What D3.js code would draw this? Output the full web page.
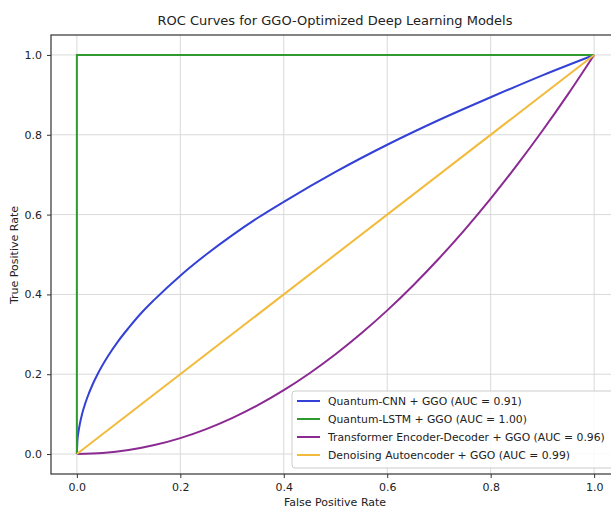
<!DOCTYPE html>
<html>
<head>
    <script src="https://cdn.jsdelivr.net/npm/d3@7"></script>
    <style>
        body { margin: 0; background: #fff; }
        svg { display: block; font-family: "DejaVu Sans", sans-serif; }
        .grid line { stroke: #d9d9d9; stroke-width: 1; }
        .curve { fill: none; stroke-width: 2; }
    </style>
</head>
<body>
<div id="container"></div>
<script>
    // data
    var fprCnn = [0, 0.001, 0.003, 0.006, 0.01, 0.015, 0.02, 0.03, 0.04, 0.06, 0.08, 0.1, 0.125, 0.15, 0.2, 0.25, 0.3, 0.35, 0.4, 0.5, 0.6, 0.7, 0.8, 0.9, 1];
    var tprCnn = [0, 0.032, 0.055, 0.077, 0.1, 0.122, 0.141, 0.173, 0.2, 0.245, 0.283, 0.316, 0.354, 0.387, 0.447, 0.5, 0.548, 0.592, 0.632, 0.707, 0.775, 0.837, 0.894, 0.949, 1];
    var fprLstm = [0, 0, 1];
    var tprLstm = [0, 1, 1];
    var fprTrans = [0, 0.05, 0.1, 0.15, 0.2, 0.25, 0.3, 0.35, 0.4, 0.45, 0.5, 0.55, 0.6, 0.65, 0.7, 0.75, 0.8, 0.85, 0.9, 0.95, 1];
    var tprTrans = [0, 0.0025, 0.01, 0.0225, 0.04, 0.0625, 0.09, 0.1225, 0.16, 0.2025, 0.25, 0.3025, 0.36, 0.4225, 0.49, 0.5625, 0.64, 0.7225, 0.81, 0.9025, 1];
    var fprDae = [0, 1];
    var tprDae = [0, 1];
    var labels = [
        "Quantum-CNN + GGO (AUC = 0.91)",
        "Quantum-LSTM + GGO (AUC = 1.00)",
        "Transformer Encoder-Decoder + GGO (AUC = 0.96)",
        "Denoising Autoencoder + GGO (AUC = 0.99)"
    ];
    var colors = ["#3341d6", "#2f9a2f", "#8b2a92", "#f2bb3c"];
    var ticks = [0, 0.2, 0.4, 0.6, 0.8, 1.0];

    var series = [
        { x: fprCnn, y: tprCnn, smooth: true },
        { x: fprLstm, y: tprLstm, smooth: false },
        { x: fprTrans, y: tprTrans, smooth: true },
        { x: fprDae, y: tprDae, smooth: false }
    ];

    var W = 611, H = 508;
    // axes box
    var box = { left: 51, right: 620, top: 35, bottom: 474 };

    var x = d3.scaleLinear().domain([-0.05, 1.05]).range([box.left, box.right]);
    var y = d3.scaleLinear().domain([-0.05, 1.05]).range([box.bottom, box.top]);

    var svg = d3.select("#container").append("svg")
        .attr("width", W)
        .attr("height", H);

    // grid
    var grid = svg.append("g").attr("class", "grid");
    grid.selectAll("line.v").data(ticks).enter().append("line")
        .attr("class", "v")
        .attr("x1", function(d) { return x(d); })
        .attr("x2", function(d) { return x(d); })
        .attr("y1", box.top).attr("y2", box.bottom);
    grid.selectAll("line.h").data(ticks).enter().append("line")
        .attr("class", "h")
        .attr("y1", function(d) { return y(d); })
        .attr("y2", function(d) { return y(d); })
        .attr("x1", box.left).attr("x2", box.right);

    // curves
    var smoothLine = d3.line()
        .x(function(d) { return x(d[0]); })
        .y(function(d) { return y(d[1]); })
        .curve(d3.curveMonotoneX);
    var straightLine = d3.line()
        .x(function(d) { return x(d[0]); })
        .y(function(d) { return y(d[1]); });

    svg.selectAll("path.curve").data(series).enter().append("path")
        .attr("class", "curve")
        .attr("stroke", function(d, i) { return colors[i]; })
        .attr("d", function(d) {
            return (d.smooth ? smoothLine : straightLine)(d3.zip(d.x, d.y));
        });

    // frame
    svg.append("rect")
        .attr("x", box.left).attr("y", box.top)
        .attr("width", box.right - box.left).attr("height", box.bottom - box.top)
        .attr("fill", "none").attr("stroke", "#333").attr("stroke-width", 1.2);

    // axes
    var xAxis = svg.append("g")
        .attr("transform", "translate(0," + box.bottom + ")")
        .call(d3.axisBottom(x).tickValues(ticks).tickFormat(d3.format(".1f")).tickSize(4).tickPadding(5));
    var yAxis = svg.append("g")
        .attr("transform", "translate(" + box.left + ",0)")
        .call(d3.axisLeft(y).tickValues(ticks).tickFormat(d3.format(".1f")).tickSize(4).tickPadding(5));
    [xAxis, yAxis].forEach(function(a) {
        a.select(".domain").remove();
        a.selectAll("line").attr("stroke", "#333");
        a.selectAll("text").attr("font-size", 11).attr("fill", "#222")
            .attr("font-family", "DejaVu Sans, sans-serif");
    });

    // title and labels
    svg.append("text")
        .attr("x", 335).attr("y", 25)
        .attr("text-anchor", "middle")
        .attr("font-size", 13)
        .attr("fill", "#222")
        .text("ROC Curves for GGO-Optimized Deep Learning Models");

    svg.append("text")
        .attr("x", 335).attr("y", 506)
        .attr("text-anchor", "middle")
        .attr("font-size", 11)
        .attr("fill", "#222")
        .text("False Positive Rate");

    svg.append("text")
        .attr("transform", "translate(18,255) rotate(-90)")
        .attr("text-anchor", "middle")
        .attr("font-size", 11)
        .attr("fill", "#222")
        .text("True Positive Rate");

    // legend
    var lg = svg.append("g").attr("transform", "translate(292,391)");
    lg.append("rect")
        .attr("width", 330).attr("height", 77)
        .attr("rx", 3)
        .attr("fill", "#fff").attr("fill-opacity", 0.85)
        .attr("stroke", "#ccc");
    var items = lg.selectAll("g.item").data(labels).enter().append("g")
        .attr("class", "item")
        .attr("transform", function(d, i) { return "translate(0," + (10 + i * 18) + ")"; });
    items.append("line")
        .attr("x1", 5).attr("x2", 28)
        .attr("stroke", function(d, i) { return colors[i]; })
        .attr("stroke-width", 2);
    items.append("text")
        .attr("x", 36).attr("dy", "0.35em")
        .attr("font-size", 10.8)
        .attr("fill", "#222")
        .text(function(d) { return d; });
</script>
</body>
</html>
